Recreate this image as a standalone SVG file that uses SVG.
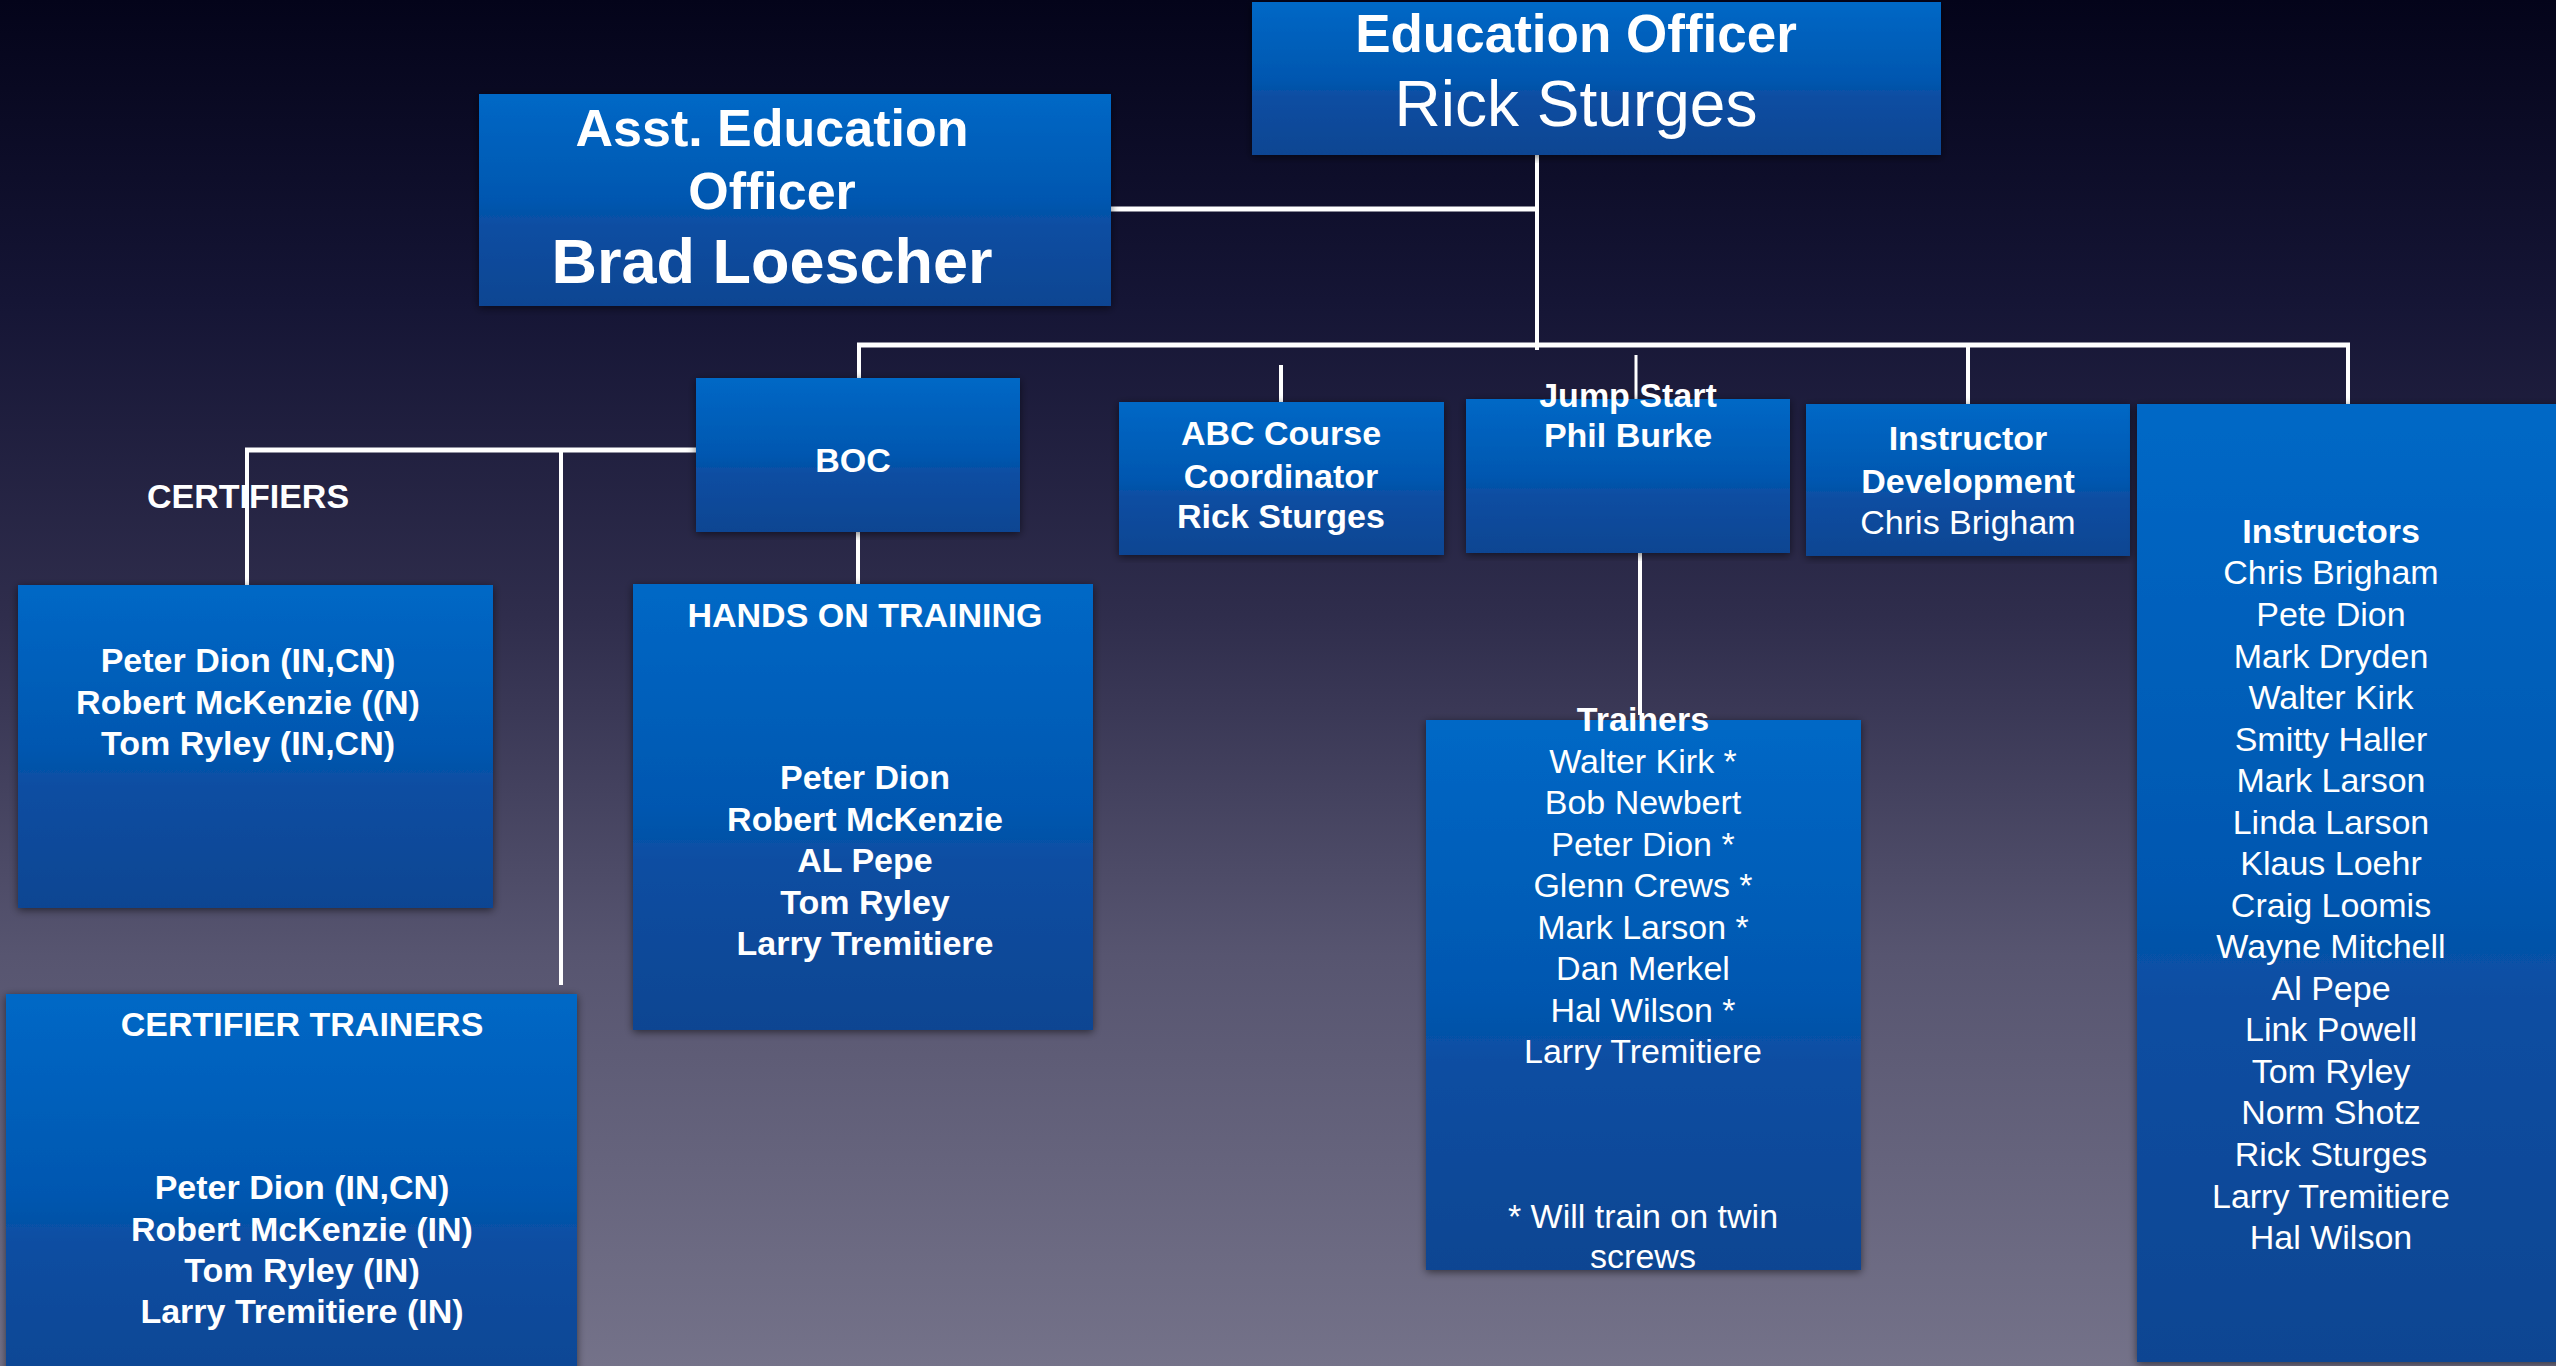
<svg xmlns="http://www.w3.org/2000/svg" width="2556" height="1366" viewBox="0 0 2556 1366">
<defs>
<linearGradient id="bg" x1="0" y1="0" x2="0" y2="1">
<stop offset="0" stop-color="#04041a"/>
<stop offset="0.22" stop-color="#151535"/>
<stop offset="0.45" stop-color="#2f2d4c"/>
<stop offset="0.7" stop-color="#575570"/>
<stop offset="1" stop-color="#747289"/>
</linearGradient>
<linearGradient id="box" x1="0" y1="0" x2="0" y2="1">
<stop offset="0" stop-color="#0068c6"/>
<stop offset="0.5" stop-color="#0057b0"/>
<stop offset="0.62" stop-color="#0a4ea2"/>
<stop offset="1" stop-color="#0e4592"/>
</linearGradient>
<filter id="sh" x="-5%" y="-5%" width="110%" height="110%">
<feDropShadow dx="0" dy="2" stdDeviation="4" flood-color="#000" flood-opacity="0.55"/>
</filter>
<style>
.b{fill:url(#box);filter:url(#sh)}
.ln{stroke:#fff;fill:none}
.t{font-family:"Liberation Sans",Arial,Helvetica,sans-serif;fill:#fff;text-anchor:middle;font-size:34px}
.bd{font-weight:bold}
</style>
</defs>
<rect x="0" y="0" width="2556" height="1366" fill="url(#bg)"/>

<g id="connectors" class="ln">
<line x1="1537" y1="155" x2="1537" y2="350" stroke-width="4"/>
<line x1="1111" y1="209" x2="1539" y2="209" stroke-width="5"/>
<line x1="857" y1="345" x2="2350" y2="345" stroke-width="5"/>
<line x1="859" y1="345" x2="859" y2="378" stroke-width="4"/>
<line x1="1281" y1="365" x2="1281" y2="402" stroke-width="4"/>
<line x1="1636" y1="355" x2="1636" y2="400" stroke-width="3"/>
<line x1="1968" y1="345" x2="1968" y2="404" stroke-width="4"/>
<line x1="2348" y1="345" x2="2348" y2="404" stroke-width="4"/>
<line x1="245" y1="450" x2="696" y2="450" stroke-width="5"/>
<line x1="247" y1="448" x2="247" y2="585" stroke-width="4"/>
<line x1="561" y1="450" x2="561" y2="985" stroke-width="4"/>
<line x1="858" y1="531" x2="858" y2="584" stroke-width="4"/>
<line x1="1640" y1="553" x2="1640" y2="715" stroke-width="4"/>
</g>

<g id="education-officer">
<rect class="b" x="1252" y="2" width="689" height="153"/>
<text class="t bd" x="1576" y="52" style="font-size:53px">Education Officer</text>
<text class="t" x="1576" y="126" style="font-size:64px">Rick Sturges</text>
</g>

<g id="asst-education-officer">
<rect class="b" x="479" y="94" width="632" height="212"/>
<text class="t bd" x="772" y="146" style="font-size:52px">Asst. Education</text>
<text class="t bd" x="772" y="209" style="font-size:52px">Officer</text>
<text class="t bd" x="772" y="283" style="font-size:63px">Brad Loescher</text>
</g>

<g id="boc">
<rect class="b" x="696" y="378" width="324" height="154"/>
<text class="t bd" x="853" y="472">BOC</text>
</g>

<g id="abc-course">
<rect class="b" x="1119" y="402" width="325" height="153"/>
<text class="t bd" x="1281" y="445">ABC Course</text>
<text class="t bd" x="1281" y="488">Coordinator</text>
<text class="t bd" x="1281" y="528">Rick Sturges</text>
</g>

<g id="jump-start">
<rect class="b" x="1466" y="399" width="324" height="154"/>
<text class="t bd" x="1628" y="407">Jump Start</text>
<text class="t bd" x="1628" y="447">Phil Burke</text>
</g>

<g id="instructor-development">
<rect class="b" x="1806" y="404" width="324" height="152"/>
<text class="t bd" x="1968" y="450">Instructor</text>
<text class="t bd" x="1968" y="493">Development</text>
<text class="t" x="1968" y="534">Chris Brigham</text>
</g>

<g id="instructors">
<rect class="b" x="2137" y="404" width="430" height="958"/>
<text class="t bd" x="2331" y="543">Instructors</text>
<text class="t" x="2331" y="584">Chris Brigham</text>
<text class="t" x="2331" y="626">Pete Dion</text>
<text class="t" x="2331" y="668">Mark Dryden</text>
<text class="t" x="2331" y="709">Walter Kirk</text>
<text class="t" x="2331" y="751">Smitty Haller</text>
<text class="t" x="2331" y="792">Mark Larson</text>
<text class="t" x="2331" y="834">Linda Larson</text>
<text class="t" x="2331" y="875">Klaus Loehr</text>
<text class="t" x="2331" y="917">Craig Loomis</text>
<text class="t" x="2331" y="958">Wayne Mitchell</text>
<text class="t" x="2331" y="1000">Al Pepe</text>
<text class="t" x="2331" y="1041">Link Powell</text>
<text class="t" x="2331" y="1083">Tom Ryley</text>
<text class="t" x="2331" y="1124">Norm Shotz</text>
<text class="t" x="2331" y="1166">Rick Sturges</text>
<text class="t" x="2331" y="1208">Larry Tremitiere</text>
<text class="t" x="2331" y="1249">Hal Wilson</text>
</g>

<g id="trainers">
<rect class="b" x="1426" y="720" width="435" height="550"/>
<text class="t bd" x="1643" y="731">Trainers</text>
<text class="t" x="1643" y="773">Walter Kirk *</text>
<text class="t" x="1643" y="814">Bob Newbert</text>
<text class="t" x="1643" y="856">Peter Dion *</text>
<text class="t" x="1643" y="897">Glenn Crews *</text>
<text class="t" x="1643" y="939">Mark Larson *</text>
<text class="t" x="1643" y="980">Dan Merkel</text>
<text class="t" x="1643" y="1022">Hal Wilson *</text>
<text class="t" x="1643" y="1063">Larry Tremitiere</text>
<text class="t" x="1643" y="1228">* Will train on twin</text>
<text class="t" x="1643" y="1268">screws</text>
</g>

<g id="certifiers-label">
<text class="t bd" x="248" y="508" style="font-size:34px">CERTIFIERS</text>
</g>

<g id="certifiers">
<rect class="b" x="18" y="585" width="475" height="323"/>
<text class="t bd" x="248" y="672">Peter Dion (IN,CN)</text>
<text class="t bd" x="248" y="714">Robert McKenzie ((N)</text>
<text class="t bd" x="248" y="755">Tom Ryley (IN,CN)</text>
</g>

<g id="hands-on-training">
<rect class="b" x="633" y="584" width="460" height="446"/>
<text class="t bd" x="865" y="627">HANDS ON TRAINING</text>
<text class="t bd" x="865" y="789">Peter Dion</text>
<text class="t bd" x="865" y="831">Robert McKenzie</text>
<text class="t bd" x="865" y="872">AL Pepe</text>
<text class="t bd" x="865" y="914">Tom Ryley</text>
<text class="t bd" x="865" y="955">Larry Tremitiere</text>
</g>

<g id="certifier-trainers">
<rect class="b" x="6" y="994" width="571" height="400"/>
<text class="t bd" x="302" y="1036">CERTIFIER TRAINERS</text>
<text class="t bd" x="302" y="1199">Peter Dion (IN,CN)</text>
<text class="t bd" x="302" y="1241">Robert McKenzie (IN)</text>
<text class="t bd" x="302" y="1282">Tom Ryley (IN)</text>
<text class="t bd" x="302" y="1323">Larry Tremitiere (IN)</text>
</g>
</svg>
